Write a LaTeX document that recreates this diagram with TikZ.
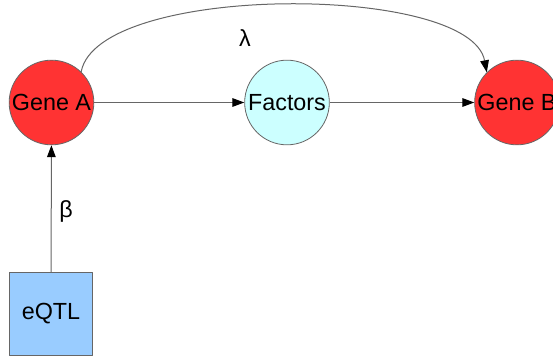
\documentclass[tikz,border=0pt]{standalone}
\usepackage{fontspec}
\setmainfont{Liberation Sans}
\usetikzlibrary{arrows.meta}
\definecolor{genered}{HTML}{FF3333}
\definecolor{factorcyan}{HTML}{CCFFFF}
\definecolor{qtlblue}{HTML}{99CCFF}
\definecolor{edgegray}{HTML}{666666}
\tikzset{
  every picture/.style={
    line join=round,
    >={Triangle[length=9pt,width=6.5pt,black]},
  },
  gene/.style={circle, draw=edgegray, line width=0.6pt, fill=genered,
    minimum size=63.5pt, inner sep=0pt, font=\fontsize{17.5}{20}\selectfont},
  factor/.style={gene, fill=factorcyan},
  marker/.style={rectangle, draw=edgegray, line width=0.6pt, fill=qtlblue,
    minimum size=62.5pt, inner sep=0pt, font=\fontsize{17.5}{20}\selectfont},
  link/.style={edgegray, line width=0.75pt, ->},
  coef/.style={font=\fontsize{17.5}{20}\selectfont},
}
\begin{document}
\begin{tikzpicture}[x=0.75pt, y=-0.75pt]
    \clip (0,0) rectangle (553,360);
    \useasboundingbox (0,0) rectangle (553,360);
    % Nodes
    \node[gene] (geneA) at (51.5,102.5) {Gene A};
    \node[factor] (factors) at (287,102.5) {Factors};
    \node[gene] (geneB) at (517,102.5) {Gene B};
    \node[marker] (eqtl) at (51,314) {eQTL};
    % Edges
    \draw[link] (geneA) -- (factors);
    \draw[link] (factors) -- (geneB);
    \draw[link] (eqtl) -- (geneA);
    \draw[link] (geneA.46) .. controls (98,-17) and (470,-17) .. (geneB.135);
    % Coefficients
    \node[coef] (lambda) at (245,38) {λ};
    \node[coef] (beta) at (66,211) {β};
\end{tikzpicture}
\end{document}
